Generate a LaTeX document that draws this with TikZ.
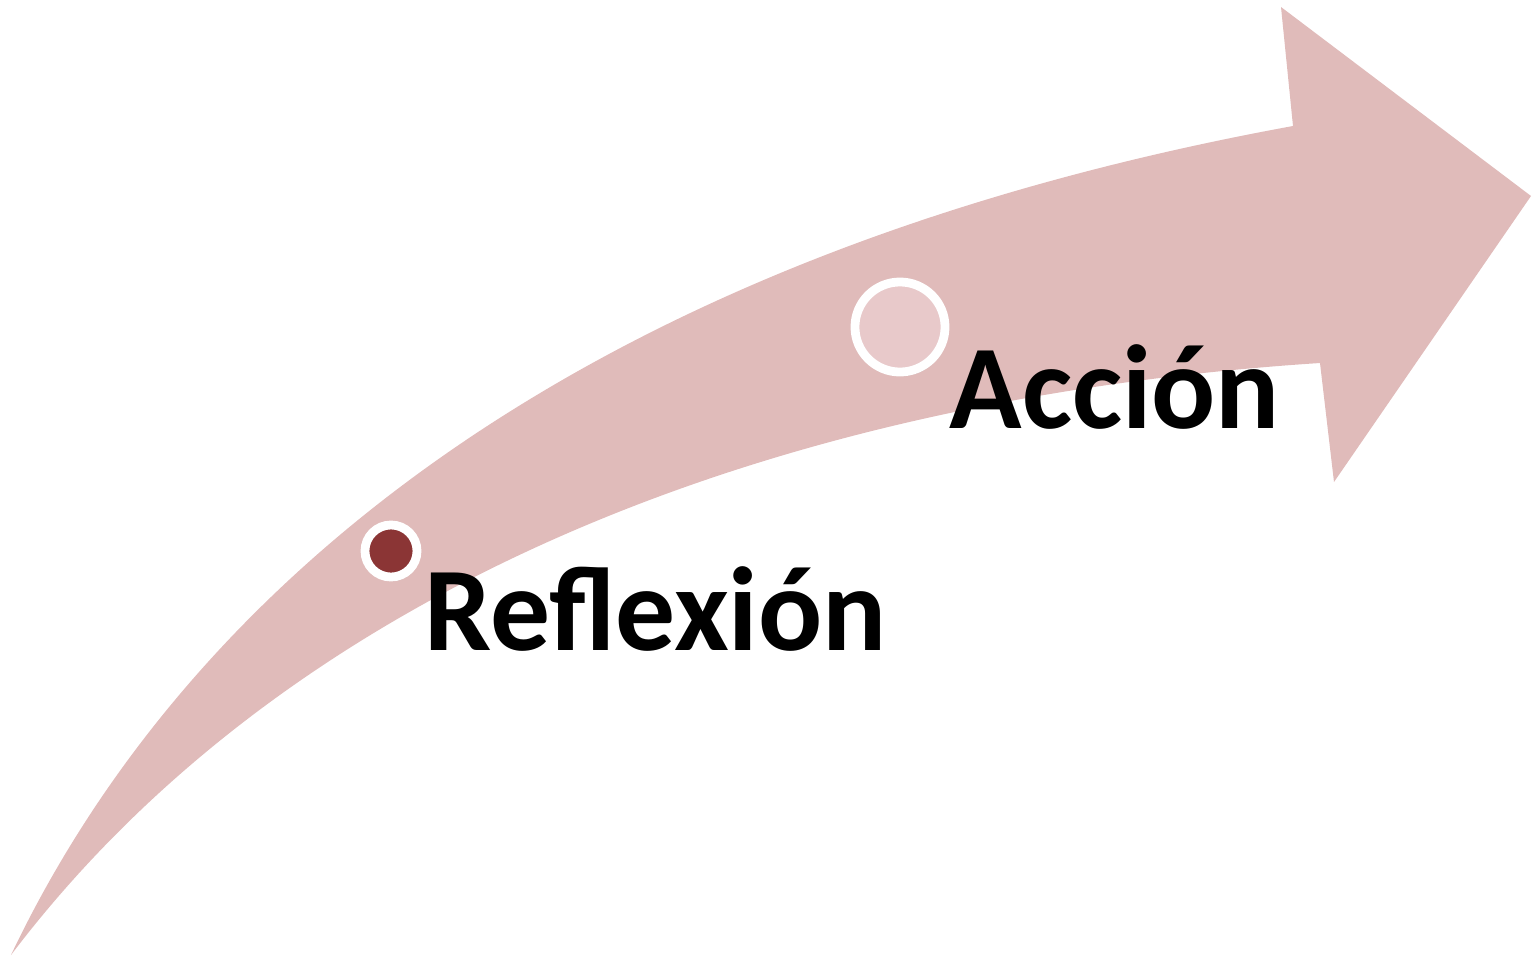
\documentclass[tikz,border=0pt]{standalone}
\usepackage{fontspec}
\setmainfont{Carlito}
\usetikzlibrary{shadows, positioning}

\definecolor{arrowpink}{HTML}{E0BBBA}
\definecolor{stepdark}{HTML}{8B3535}
\definecolor{steplight}{HTML}{E8C9CA}

\begin{document}
\begin{tikzpicture}[
    x=0.01cm, y=-0.01cm,
    % Node styles
    dotbox/.style={
        circle,
        draw=white,
        line width=2.5pt,
        inner sep=0pt,
        drop shadow={opacity=0.3, shadow xshift=0.4pt, shadow yshift=-1.2pt}
    },
    labeltext/.style={
        font=\fontsize{34}{38}\selectfont\bfseries,
        anchor=base west,
        inner sep=0pt
    }
]

\useasboundingbox (0,0) rectangle (1532,957);

% === Curved arrow ===
\fill[arrowpink] (11,955) .. controls (180,600) and (560,260) .. (1293,126)
    -- (1281,7) -- (1531,196) -- (1334,482) -- (1320,363)
    .. controls (750,400) and (280,600) .. (11,955) -- cycle;

% === Step markers ===
\node[dotbox, fill=stepdark, minimum size=0.52cm] (reflexdot) at (391,551) {};
\node[dotbox, fill=steplight, minimum size=0.9cm] (acciondot) at (900,327) {};

% === Labels ===
\node[labeltext] (reflex) at (424,650) {Reflexión};
\node[labeltext] (accion) at (949,428) {Acción};

\end{tikzpicture}
\end{document}
